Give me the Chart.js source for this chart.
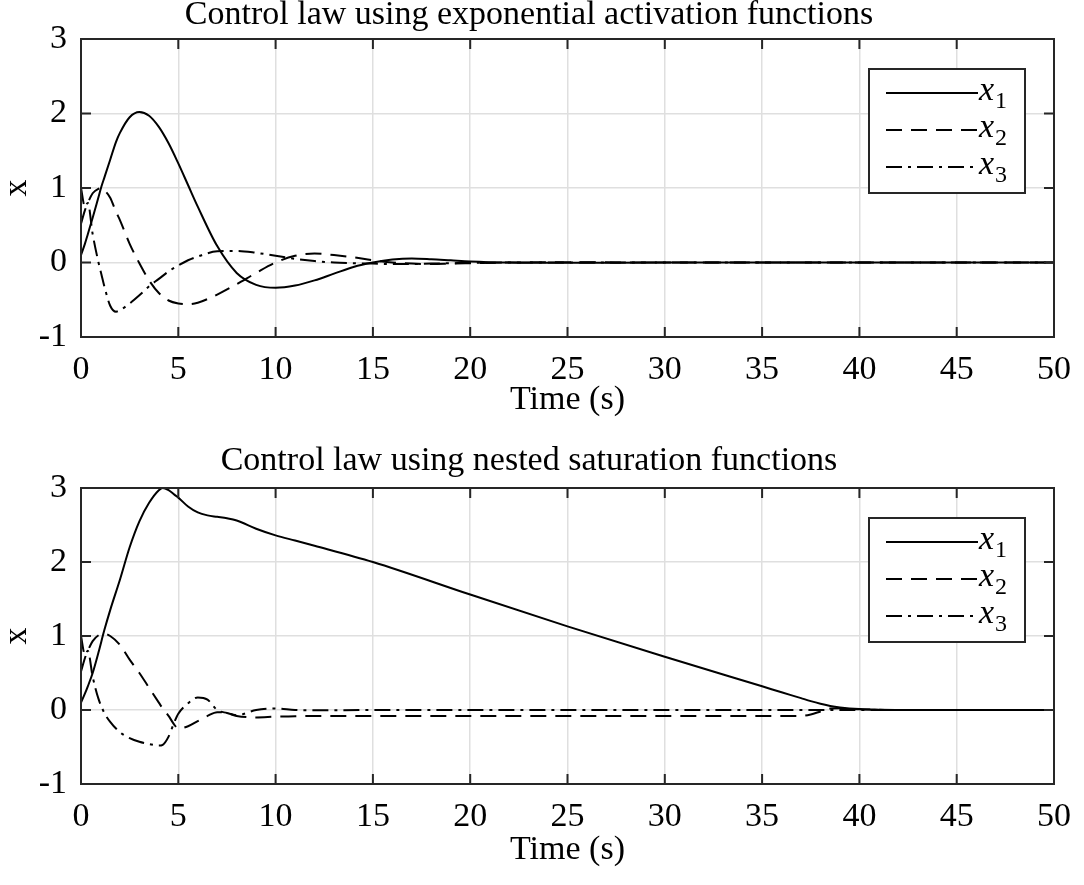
<!DOCTYPE html>
<html>
<head>
<meta charset="utf-8">
<script src="https://cdn.jsdelivr.net/npm/chart.js@4.4.1/dist/chart.umd.min.js"></script>
<style>
  body { margin: 0; background: #fff; }
  .box { position: absolute; left: 0; width: 1084px; }
  #top { top: 0; height: 442px; }
  #bottom { top: 442px; height: 443px; }
</style>
</head>
<body>
<div class="box" id="top"><canvas id="c1"></canvas></div>
<div class="box" id="bottom"><canvas id="c2"></canvas></div>
<script>
// exponential activation functions
const expT  = [0, 0.2, 0.35, 0.6, 0.9, 1.05, 1.2, 1.5, 1.8, 2, 2.5, 3, 3.5, 4, 4.5, 5, 5.5, 6, 7, 8, 9, 10, 11, 12, 13, 14, 15, 16, 17, 18, 19, 20, 22, 25, 30, 50];
const expX1 = [0.1, 0.25, 0.38, 0.6, 0.88, 1.02, 1.14, 1.38, 1.62, 1.74, 1.95, 2.02, 1.97, 1.82, 1.6, 1.33, 1.04, 0.75, 0.22, -0.14, -0.3, -0.34, -0.31, -0.24, -0.15, -0.06, 0.0, 0.04, 0.055, 0.045, 0.03, 0.015, 0.0, -0.005, 0, 0];
const expX2 = [0.52, 0.7, 0.8, 0.93, 0.99, 1.0, 0.97, 0.87, 0.68, 0.57, 0.25, -0.01, -0.24, -0.41, -0.51, -0.55, -0.56, -0.54, -0.43, -0.29, -0.14, 0.0, 0.09, 0.12, 0.1, 0.07, 0.03, 0.0, -0.015, -0.02, -0.015, -0.01, 0, 0.003, 0, 0];
const expX3 = [1.0, 0.75, 0.8, 0.38, 0.0, -0.16, -0.32, -0.58, -0.66, -0.64, -0.55, -0.44, -0.32, -0.22, -0.12, -0.04, 0.03, 0.08, 0.15, 0.155, 0.13, 0.09, 0.05, 0.02, 0.0, -0.01, -0.015, -0.02, -0.02, -0.015, -0.01, -0.005, 0, 0, 0, 0];

// nested saturation functions
const satT  = [0, 0.2, 0.35, 0.6, 0.9, 1.2, 1.5, 2, 2.5, 3, 3.5, 4, 4.2, 4.5, 4.8, 5, 5.5, 6, 6.5, 7, 7.5, 8, 9, 10, 11, 12, 15, 20, 25, 30, 35, 36, 37, 37.5, 38, 38.5, 39, 40, 41, 42, 45, 50];
const satX1 = [0.1, 0.22, 0.32, 0.5, 0.78, 1.08, 1.35, 1.76, 2.2, 2.55, 2.8, 2.97, 3.0, 2.97, 2.91, 2.87, 2.75, 2.67, 2.63, 2.61, 2.59, 2.56, 2.45, 2.36, 2.29, 2.22, 2.0, 1.56, 1.13, 0.72, 0.32, 0.24, 0.16, 0.12, 0.085, 0.055, 0.035, 0.012, 0.004, 0, 0, 0];
const satX2 = [0.52, 0.7, 0.8, 0.93, 1.01, 1.03, 1.0, 0.88, 0.68, 0.5, 0.3, 0.1, 0.02, -0.08, -0.2, -0.25, -0.22, -0.15, -0.08, -0.03, -0.04, -0.08, -0.1, -0.09, -0.085, -0.08, -0.08, -0.08, -0.08, -0.08, -0.08, -0.08, -0.08, -0.06, -0.02, 0.02, 0.025, 0.01, 0.003, 0, 0, 0];
const satX3 = [1.0, 0.75, 0.8, 0.45, 0.15, -0.04, -0.16, -0.3, -0.38, -0.43, -0.46, -0.48, -0.47, -0.36, -0.16, -0.05, 0.09, 0.17, 0.14, 0.0, -0.04, -0.07, 0.0, 0.02, 0.0, -0.005, 0, 0, 0, 0, 0, 0, 0, 0, 0, 0, 0, 0, 0, 0, 0, 0];

const xTicks = { min: 0, max: 50, step: 5 };
const yTicks = { min: -1, max: 3, step: 1 };
const names = ['x1', 'x2', 'x3'];
const dashes = [[], [16, 9], [16, 6, 3, 6]];

const FONT = '"Liberation Serif", "Times New Roman", serif';
const INK = '#262626';

function points(t, v) {
  return t.map((x, i) => ({ x: x, y: v[i] }));
}

// box around the axes, inward ticks and the legend, MATLAB style
const frame = {
  id: 'frame',
  afterDatasetsDraw(chart) {
    const { ctx, chartArea: a, scales } = chart;
    ctx.save();
    ctx.strokeStyle = INK;
    ctx.lineWidth = 2;
    ctx.beginPath();
    scales.x.ticks.forEach(t => {
      const px = scales.x.getPixelForValue(t.value);
      ctx.moveTo(px, a.bottom); ctx.lineTo(px, a.bottom - 10);
      ctx.moveTo(px, a.top); ctx.lineTo(px, a.top + 10);
    });
    scales.y.ticks.forEach(t => {
      const py = scales.y.getPixelForValue(t.value);
      ctx.moveTo(a.left, py); ctx.lineTo(a.left + 10, py);
      ctx.moveTo(a.right, py); ctx.lineTo(a.right - 10, py);
    });
    ctx.stroke();
    ctx.strokeRect(a.left, a.top, a.right - a.left, a.bottom - a.top);

    // legend
    const w = 156, h = 124;
    const lx = a.right - 29 - w, ly = a.top + 30;
    ctx.fillStyle = '#fff';
    ctx.fillRect(lx, ly, w, h);
    ctx.lineWidth = 2;
    ctx.strokeRect(lx, ly, w, h);
    chart.data.datasets.forEach((ds, i) => {
      const y = ly + 24 + i * 37;
      ctx.strokeStyle = '#000';
      ctx.setLineDash(ds.borderDash);
      ctx.beginPath();
      ctx.moveTo(lx + 17, y);
      ctx.lineTo(lx + 109, y);
      ctx.stroke();
      ctx.setLineDash([]);
      ctx.fillStyle = '#000';
      ctx.textBaseline = 'alphabetic';
      ctx.font = 'italic 34px ' + FONT;
      ctx.fillText(ds.label[0], lx + 110, y + 7);
      const xw = ctx.measureText(ds.label[0]).width;
      ctx.font = '24px ' + FONT;
      ctx.fillText(ds.label.slice(1), lx + 111 + xw, y + 15);
    });
    ctx.restore();
  }
};

function makeChart(id, title, t, series, opts) {
  new Chart(document.getElementById(id), {
    type: 'line',
    data: {
      datasets: series.map((v, i) => ({
        label: names[i],
        data: points(t, v),
        borderColor: '#000',
        borderWidth: 2,
        borderDash: dashes[i],
        pointRadius: 0,
        cubicInterpolationMode: 'monotone'
      }))
    },
    options: {
      responsive: true,
      maintainAspectRatio: false,
      animation: false,
      layout: { padding: { left: 0, right: 26, top: 0, bottom: 0 } },
      plugins: {
        legend: { display: false },
        tooltip: { enabled: false },
        title: {
          display: true,
          text: title,
          color: '#000',
          font: { family: FONT, size: 34, weight: 'normal', lineHeight: 0.9 },
          padding: opts.titlePad
        }
      },
      scales: {
        x: {
          type: 'linear',
          min: xTicks.min,
          max: xTicks.max,
          ticks: { stepSize: xTicks.step, color: '#000', padding: 13, maxRotation: 0,
                   font: { family: FONT, size: 34 } },
          grid: { color: '#dfdfdf', lineWidth: 1.5, drawTicks: false },
          border: { display: false },
          title: { display: true, text: 'Time (s)', color: '#000',
                   font: { family: FONT, size: 34, lineHeight: 1 },
                   padding: { top: 0, bottom: opts.xTitleBottom } },
          afterFit: s => { s.height = opts.xHeight; }
        },
        y: {
          min: yTicks.min,
          max: yTicks.max,
          ticks: { stepSize: yTicks.step, color: '#000', padding: 14,
                   font: { family: FONT, size: 34 } },
          grid: { color: '#dfdfdf', lineWidth: 1.5, drawTicks: false },
          border: { display: false },
          title: { display: true, text: 'x', color: '#000',
                   font: { family: FONT, size: 34, lineHeight: 1 },
                   padding: 0 },
          afterFit: s => { s.width = 81; }
        }
      }
    },
    plugins: [frame]
  });
}

makeChart('c1', 'Control law using exponential activation functions', expT, [expX1, expX2, expX3],
  { titlePad: { top: 0, bottom: 8.4 }, xHeight: 105, xTitleBottom: 25 });
makeChart('c2', 'Control law using nested saturation functions', satT, [satX1, satX2, satX3],
  { titlePad: { top: 4.2, bottom: 11.2 }, xHeight: 101, xTitleBottom: 18 });
</script>
</body>
</html>
